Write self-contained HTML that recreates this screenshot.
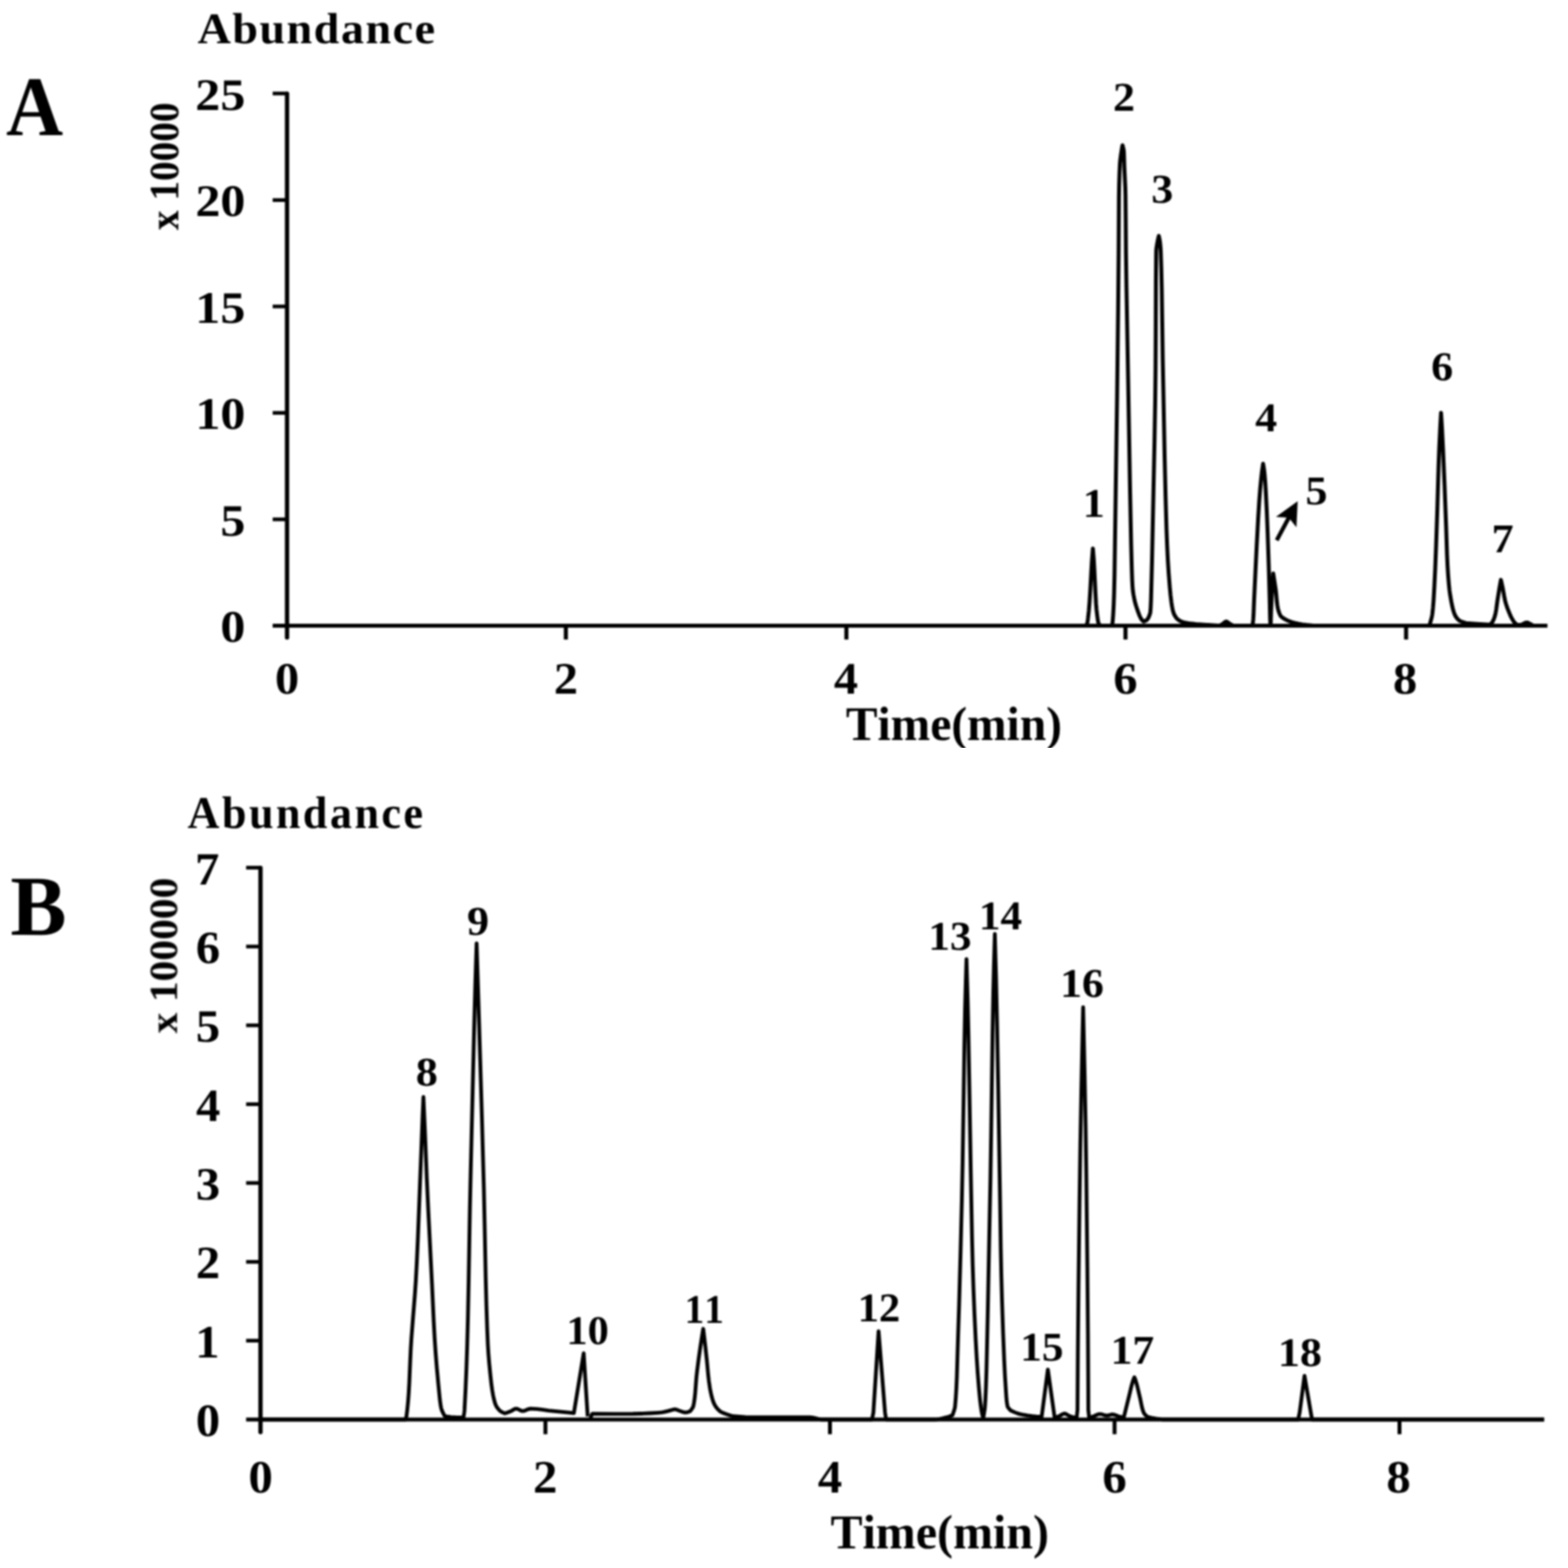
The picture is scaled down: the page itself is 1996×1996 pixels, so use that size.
<!DOCTYPE html>
<html lang="en">
<head>
<meta charset="utf-8">
<title>Chromatograms A and B</title>
<style>
html,body{margin:0;padding:0;background:#fff;}
body{width:1996px;height:1996px;overflow:hidden;}
svg{display:block;}
text{white-space:pre;font-kerning:none;font-variant-ligatures:none;text-rendering:geometricPrecision;}
</style>
</head>
<body>
<svg xmlns="http://www.w3.org/2000/svg" width="1996" height="1996" viewBox="0 0 1996 1996">
<defs>
<clipPath id="clipA"><rect x="1000" y="880" width="500" height="71.5"/></clipPath>
<filter id="soft" filterUnits="userSpaceOnUse" x="0" y="0" width="1996" height="1996" color-interpolation-filters="sRGB"><feGaussianBlur stdDeviation="0.9"/></filter>
</defs>
<rect width="1996" height="1996" fill="#fff"/>
<g filter="url(#soft)">
<g fill="none" stroke="#000"><path stroke-width="5.5" stroke-linecap="round" d="M365.4,119.3V811.5"/><path stroke-width="4.8" d="M347.1,796.5H1969.6"/><path stroke-width="5.2" d="M720.3,796.5V814.1"/><path stroke-width="5.2" d="M1077.4,796.5V814.1"/><path stroke-width="5.2" d="M1432.7,796.5V814.1"/><path stroke-width="5.2" d="M1789.9,796.5V814.1"/><path stroke-width="4.7" d="M347.1,661.1H365.4"/><path stroke-width="4.7" d="M347.1,525.6H365.4"/><path stroke-width="4.7" d="M347.1,390.1H365.4"/><path stroke-width="4.7" d="M347.1,254.7H365.4"/><path stroke-width="4.7" d="M347.1,119.0H365.4"/></g>
<g fill="none" stroke="#000"><path stroke-width="5.5" stroke-linecap="round" d="M331.6,1104.8V1823.1"/><path stroke-width="4.8" d="M313.3,1807.0H1965.5"/><path stroke-width="5.0" d="M694.3,1807.0V1825.7"/><path stroke-width="5.0" d="M1056.5,1807.0V1825.7"/><path stroke-width="5.0" d="M1418.8,1807.0V1825.7"/><path stroke-width="5.0" d="M1781.5,1807.0V1825.7"/><path stroke-width="4.7" d="M313.3,1706.6H331.6"/><path stroke-width="4.7" d="M313.3,1606.3H331.6"/><path stroke-width="4.7" d="M313.3,1505.9H331.6"/><path stroke-width="4.7" d="M313.3,1405.6H331.6"/><path stroke-width="4.7" d="M313.3,1305.2H331.6"/><path stroke-width="4.7" d="M313.3,1204.9H331.6"/><path stroke-width="4.7" d="M313.3,1104.5H331.6"/></g>
<g fill="none" stroke="#000" stroke-linejoin="round" stroke-linecap="butt"><path stroke-width="5.0" d="M365.40,796.45 1381.50,796.45 1382.86,795.39 1383.24,795.04 1383.51,794.69 1383.98,793.28 1384.44,791.17 1384.87,788.00 1386.04,777.43 1386.86,767.57 1387.88,751.37 1389.10,728.84 1389.95,714.40 1391.11,699.26 1391.20,698.20 1392.30,711.93 1392.98,723.55 1394.55,756.66 1395.23,768.63 1395.83,776.03 1396.59,782.72 1397.58,790.11 1398.03,792.22 1398.59,793.98 1398.91,794.69 1399.25,795.04 1400.31,795.75 1401.50,796.45 1415.60,796.45 1416.38,791.20 1417.01,782.79 1417.66,770.54 1418.19,755.48 1418.74,731.66 1419.32,691.04 1422.00,506.48 1423.34,393.02 1423.98,323.33 1424.37,251.54 1424.60,235.78 1425.05,221.07 1425.65,208.11 1426.06,203.56 1426.98,196.56 1428.05,189.55 1428.90,185.00 1430.01,189.20 1430.47,191.65 1430.66,194.11 1430.92,201.81 1431.21,211.97 1432.46,238.93 1432.71,248.74 1433.00,278.50 1433.32,322.28 1433.94,365.70 1436.22,491.78 1438.47,622.40 1439.88,692.44 1440.66,722.21 1441.18,737.97 1441.71,747.77 1442.12,751.98 1442.85,756.88 1444.18,763.88 1445.12,767.74 1446.48,772.29 1448.66,778.59 1450.35,783.15 1451.45,785.60 1452.61,787.70 1453.35,788.75 1454.69,790.15 1455.80,791.20 1458.42,790.15 1459.08,789.80 1459.56,789.45 1460.56,788.40 1461.33,787.35 1462.08,785.94 1463.39,782.79 1464.06,780.69 1464.33,779.29 1464.78,773.33 1465.16,764.57 1466.47,714.11 1469.66,560.99 1470.51,510.54 1470.98,469.19 1471.21,426.44 1471.43,358.11 1471.74,324.13 1471.86,318.52 1472.17,315.37 1473.03,310.11 1473.94,305.21 1475.10,300.30 1476.10,304.85 1476.60,308.01 1477.25,314.31 1477.58,319.57 1478.29,341.98 1478.88,368.96 1479.47,410.64 1480.11,456.53 1482.56,582.28 1483.75,633.07 1484.92,673.70 1485.73,694.72 1486.68,713.98 1487.72,730.10 1489.10,747.61 1490.06,757.77 1491.13,766.53 1491.97,772.13 1492.81,776.33 1493.63,779.49 1494.41,781.59 1495.26,783.34 1496.30,785.09 1497.57,786.84 1498.54,787.89 1499.78,788.94 1501.37,790.00 1503.38,791.05 1504.90,791.63 1507.62,792.36 1511.90,793.21 1516.11,793.85 1522.39,794.48 1536.00,795.49 1537.60,795.60 1552.40,796.45 1555.30,794.91 1556.95,793.89 1559.44,791.78 1559.85,791.51 1560.27,791.32 1560.68,791.22 1561.09,791.21 1561.51,791.30 1561.92,791.48 1562.75,792.02 1564.82,793.75 1565.65,794.28 1568.54,795.75 1570.20,796.45 1593.00,796.45 1594.18,795.05 1594.60,794.35 1594.75,793.65 1595.29,788.74 1595.70,782.78 1596.07,772.61 1596.43,763.49 1598.15,727.38 1599.70,695.48 1601.66,658.67 1602.94,638.33 1604.12,622.91 1605.33,609.93 1606.48,599.77 1607.73,591.35 1607.90,590.30 1609.12,598.01 1609.66,602.57 1610.51,612.74 1611.34,626.06 1612.52,649.55 1613.64,677.60 1615.06,720.02 1616.39,768.05 1616.77,786.28 1617.07,792.94 1617.50,796.45 1618.03,779.16 1618.80,761.51 1619.76,744.92 1620.80,730.10 1623.19,745.63 1623.99,750.92 1624.57,756.57 1625.41,766.10 1626.01,770.69 1626.72,774.57 1627.43,777.39 1628.25,779.86 1629.30,782.33 1630.04,783.74 1630.57,784.45 1631.64,785.51 1633.30,786.74 1635.66,788.16 1638.80,789.74 1641.47,790.92 1644.17,791.86 1647.95,792.92 1652.65,793.98 1657.73,794.92 1662.78,795.55 1672.00,796.45 1819.40,796.45 1820.51,793.29 1822.08,787.68 1822.87,784.18 1823.32,781.37 1824.14,773.66 1824.86,764.54 1825.89,746.66 1826.97,724.22 1828.13,694.06 1829.65,648.13 1831.21,594.13 1832.06,571.33 1833.41,542.93 1834.40,525.40 1835.60,545.03 1836.87,570.97 1838.90,618.64 1840.88,670.87 1841.99,705.57 1842.66,720.29 1843.46,732.91 1844.39,744.13 1845.16,751.49 1846.06,757.80 1847.41,765.51 1848.74,772.17 1849.69,776.02 1850.77,779.53 1851.84,782.33 1852.68,784.09 1853.75,785.84 1854.82,787.24 1856.13,788.64 1857.29,789.69 1858.07,790.22 1859.66,790.98 1862.83,792.15 1866.00,793.20 1880.00,794.20 1896.50,795.20 1898.28,793.79 1898.94,793.09 1900.23,790.97 1901.27,788.86 1902.24,786.39 1903.10,783.57 1903.91,780.04 1904.63,775.81 1906.10,764.89 1908.63,749.03 1910.60,738.10 1912.66,747.31 1913.73,752.98 1915.17,761.13 1916.12,765.38 1917.22,769.28 1918.77,773.89 1920.69,778.85 1922.97,784.16 1924.56,787.35 1926.02,789.83 1927.25,791.60 1928.47,793.02 1931.00,795.50 1936.70,795.50 1938.77,794.21 1941.67,792.83 1942.49,792.53 1943.32,792.40 1944.15,792.49 1944.98,792.75 1948.29,794.39 1950.36,795.61 1951.60,796.45 1969.60,796.45"/><path stroke-width="4.8" d="M331.60,1807.00 516.00,1807.00 517.11,1804.20 517.38,1803.14 518.47,1794.38 519.44,1784.56 520.26,1773.70 521.02,1760.38 522.15,1733.03 522.91,1716.56 523.71,1703.94 525.53,1680.45 528.16,1647.50 529.35,1629.97 530.57,1607.18 531.97,1575.98 537.98,1420.69 539.00,1396.50 540.85,1438.54 543.26,1499.14 545.24,1541.53 549.91,1634.71 552.13,1682.70 553.34,1704.42 554.55,1722.28 556.07,1741.20 557.95,1761.51 559.99,1782.18 560.74,1787.79 561.50,1791.99 561.95,1793.74 562.71,1795.84 564.00,1798.65 566.00,1802.50 570.88,1803.50 573.73,1803.90 579.83,1804.25 587.15,1804.48 590.00,1804.50 591.07,1797.49 591.32,1794.69 592.60,1769.46 593.74,1742.13 594.75,1712.00 595.66,1677.31 596.55,1632.46 598.16,1538.21 599.03,1498.62 603.55,1309.77 605.15,1250.90 606.70,1200.80 609.63,1293.99 613.49,1423.97 615.92,1512.61 616.93,1559.21 618.28,1626.48 619.19,1661.86 620.16,1690.94 621.02,1711.61 621.72,1722.82 622.76,1735.44 624.33,1751.20 625.57,1762.41 626.53,1769.42 627.56,1775.38 628.68,1780.63 629.95,1785.54 630.53,1787.29 631.30,1789.04 632.27,1790.79 633.46,1792.54 634.88,1794.30 636.21,1795.70 637.39,1796.57 639.61,1797.80 642.50,1799.20 646.12,1798.00 650.13,1796.44 651.34,1795.83 654.15,1794.11 655.36,1793.54 656.16,1793.29 656.97,1793.20 657.77,1793.27 658.97,1793.63 660.58,1794.39 662.99,1795.63 664.20,1796.06 665.00,1796.19 666.21,1796.14 667.41,1795.88 669.02,1795.32 672.64,1793.83 674.24,1793.36 675.45,1793.21 679.07,1793.29 683.49,1793.66 689.92,1794.47 698.35,1795.62 724.07,1798.19 730.50,1798.80 743.00,1722.60 748.10,1803.00"/><path stroke-width="4.8" d="M751.00,1807.00 753.01,1801.63 753.41,1800.76 753.81,1800.09 754.21,1799.69 754.61,1799.60 781.50,1799.80 805.57,1799.76 816.00,1799.51 826.84,1799.02 838.07,1798.27 842.49,1797.89 845.29,1797.40 849.71,1796.33 854.12,1795.19 856.93,1794.30 858.13,1794.06 859.34,1794.01 860.54,1794.21 862.15,1794.75 865.36,1796.09 870.17,1797.66 871.38,1797.91 872.58,1798.00 873.78,1797.92 875.39,1797.59 876.99,1797.02 878.60,1796.23 879.00,1796.00 881.44,1792.48 882.20,1791.07 882.57,1790.02 883.46,1785.44 884.24,1780.17 884.93,1773.83 885.70,1763.63 886.48,1753.43 887.20,1746.74 889.26,1730.56 891.70,1713.31 894.14,1697.83 895.20,1691.50 897.85,1713.67 899.76,1731.26 901.53,1750.62 902.39,1758.01 903.63,1766.45 904.65,1772.08 905.77,1777.01 906.94,1781.23 908.11,1784.75 909.00,1786.86 910.11,1788.98 911.47,1791.09 912.84,1792.85 914.44,1794.61 915.92,1796.01 916.85,1796.72 918.40,1797.60 920.89,1798.71 924.98,1800.24 932.50,1802.70 948.57,1803.83 955.80,1804.14 963.44,1804.20 1030.94,1804.22 1033.35,1804.43 1036.16,1804.90 1040.98,1806.03 1045.00,1807.00 1110.00,1807.00 1111.80,1798.00 1118.40,1694.60 1126.60,1798.00 1128.00,1807.00 1190.00,1807.00 1192.86,1806.77 1196.14,1806.29 1200.23,1805.45 1206.36,1803.90 1208.82,1803.06 1212.50,1801.50 1214.85,1794.49 1215.47,1792.04 1215.80,1789.94 1216.68,1779.08 1217.43,1766.82 1218.06,1752.10 1218.80,1726.88 1219.49,1704.46 1220.90,1661.02 1222.89,1588.85 1224.44,1526.49 1225.38,1479.90 1226.39,1414.38 1227.61,1332.06 1228.48,1286.16 1229.42,1250.43 1230.30,1221.00 1231.81,1273.88 1232.75,1316.26 1233.94,1383.15 1235.71,1489.61 1237.32,1575.06 1238.17,1609.73 1239.16,1640.20 1240.44,1672.07 1242.03,1705.69 1243.28,1728.10 1244.62,1748.07 1246.06,1766.28 1247.33,1779.93 1248.34,1788.69 1249.41,1796.04 1250.10,1799.55 1251.60,1805.50 1253.26,1795.69 1253.78,1791.49 1254.41,1780.99 1255.10,1765.23 1255.73,1744.92 1257.41,1670.67 1259.18,1580.32 1260.75,1502.58 1261.75,1439.89 1263.47,1317.32 1264.43,1263.39 1265.22,1230.12 1266.40,1188.80 1267.97,1245.90 1269.23,1304.04 1270.75,1387.41 1273.00,1526.48 1273.92,1588.48 1274.63,1622.81 1275.63,1658.89 1276.95,1697.77 1278.28,1731.05 1279.29,1751.36 1280.34,1768.18 1281.14,1780.09 1281.66,1784.99 1282.27,1788.84 1282.56,1790.25 1282.84,1790.95 1283.49,1792.00 1284.66,1793.40 1286.60,1795.50 1291.88,1797.88 1295.13,1799.13 1297.57,1799.87 1300.82,1800.55 1308.13,1801.87 1313.81,1802.69 1318.69,1803.19 1323.16,1803.45 1326.00,1803.50 1333.90,1743.30 1342.50,1804.50 1345.34,1803.71 1348.18,1802.73 1349.40,1802.13 1352.24,1800.39 1353.46,1799.81 1354.27,1799.58 1355.08,1799.50 1355.89,1799.61 1356.70,1799.89 1357.92,1800.50 1360.76,1802.24 1361.98,1802.79 1365.63,1803.94 1368.47,1804.64 1370.50,1805.00 1371.60,1795.00 1372.09,1720.74 1372.91,1635.98 1374.22,1528.44 1375.22,1458.74 1376.44,1391.13 1378.21,1307.77 1378.80,1282.20 1380.72,1369.42 1381.96,1434.92 1382.79,1491.31 1384.16,1612.86 1384.91,1697.62 1385.32,1769.08 1385.40,1795.00 1386.50,1805.00 1392.56,1802.78 1397.00,1800.69 1398.21,1800.27 1399.42,1800.03 1400.63,1800.03 1401.84,1800.22 1403.86,1800.79 1406.68,1801.67 1407.89,1801.92 1409.11,1802.00 1410.32,1801.86 1411.93,1801.43 1414.35,1800.71 1415.56,1800.52 1416.78,1800.55 1417.99,1800.79 1419.60,1801.33 1423.23,1802.77 1426.87,1803.72 1430.50,1804.50 1437.75,1775.14 1440.19,1764.88 1441.65,1759.57 1442.69,1756.38 1444.00,1753.20 1445.44,1756.74 1446.65,1760.64 1448.04,1765.95 1451.18,1779.41 1452.11,1783.66 1453.44,1790.39 1454.24,1793.58 1455.16,1796.42 1456.02,1798.54 1456.66,1799.60 1457.56,1800.67 1460.50,1803.50 1465.89,1804.78 1471.70,1805.85 1477.51,1806.71 1480.00,1807.00 1652.50,1807.00 1654.40,1798.00 1660.60,1751.30 1668.60,1798.00 1670.20,1807.00 1965.50,1807.00"/></g>
<path d="M1625.2,687.7L1641.4,657.4" fill="none" stroke="#000" stroke-width="5.2"/><path d="M1651.9,638.0L1650.3,671.2L1640.6,658.9L1624.2,657.9Z" fill="#000"/>
<g font-family="Liberation Serif, serif" font-weight="bold" fill="#000"><text transform="translate(7.82,171.50) scale(0.9311,1)" font-size="108.00" >A</text>
<text transform="translate(13.32,1189.80) scale(0.9829,1)" font-size="109.00" >B</text>
<text transform="translate(251.43,54.70) scale(1.0576,1)" font-size="55.50" letter-spacing="1.80" >Abundance</text>
<text transform="translate(238.85,1053.80) scale(0.9688,1)" font-size="58.00" letter-spacing="3.20" >Abundance</text>
<text transform="translate(280.57,816.95) scale(1.1100,1)" font-size="57.40" >0</text>
<text transform="translate(280.48,681.60) scale(1.1100,1)" font-size="57.40" >5</text>
<text transform="translate(248.71,546.10) scale(1.1100,1)" font-size="57.40" >10</text>
<text transform="translate(248.62,410.60) scale(1.1100,1)" font-size="57.40" >15</text>
<text transform="translate(248.71,275.20) scale(1.1100,1)" font-size="57.40" >20</text>
<text transform="translate(248.62,139.50) scale(1.1100,1)" font-size="57.40" >25</text>
<text transform="translate(249.31,1828.00) scale(1.0500,1)" font-size="59.00" >0</text>
<text transform="translate(248.44,1727.64) scale(1.0500,1)" font-size="59.00" >1</text>
<text transform="translate(249.34,1627.29) scale(1.0500,1)" font-size="59.00" >2</text>
<text transform="translate(249.21,1526.93) scale(1.0500,1)" font-size="59.00" >3</text>
<text transform="translate(249.46,1426.57) scale(1.0500,1)" font-size="59.00" >4</text>
<text transform="translate(249.21,1326.21) scale(1.0500,1)" font-size="59.00" >5</text>
<text transform="translate(249.16,1225.86) scale(1.0500,1)" font-size="59.00" >6</text>
<text transform="translate(248.30,1125.50) scale(1.0500,1)" font-size="59.00" >7</text>
<text transform="translate(350.00,883.40) scale(1.0750,1)" font-size="57.30" >0</text>
<text transform="translate(704.93,883.40) scale(1.0750,1)" font-size="57.30" >2</text>
<text transform="translate(1061.55,883.40) scale(1.0750,1)" font-size="57.30" >4</text>
<text transform="translate(1417.15,883.40) scale(1.0750,1)" font-size="57.30" >6</text>
<text transform="translate(1773.30,883.40) scale(1.0750,1)" font-size="57.30" >8</text>
<text transform="translate(316.36,1899.50) scale(1.0500,1)" font-size="59.20" >0</text>
<text transform="translate(678.59,1899.50) scale(1.0500,1)" font-size="59.20" >2</text>
<text transform="translate(1041.11,1899.50) scale(1.0500,1)" font-size="59.20" >4</text>
<text transform="translate(1403.31,1899.50) scale(1.0500,1)" font-size="59.20" >6</text>
<text transform="translate(1764.76,1899.50) scale(1.0500,1)" font-size="59.20" >8</text>
<text transform="translate(1057.15,1971.20) scale(0.9881,1)" font-size="61.80" >Time(min)</text>
<text transform="translate(226.90,292.90) rotate(-90) scale(0.9404,1)" font-size="53.20">x 10000</text>
<text transform="translate(225.30,1315.41) rotate(-90) scale(1.0426,1)" font-size="50.70">x 100000</text>
<text transform="translate(1378.16,658.00) scale(1.0800,1)" font-size="52.00" >1</text>
<text transform="translate(1416.79,141.00) scale(1.0800,1)" font-size="52.00" >2</text>
<text transform="translate(1465.56,258.00) scale(1.0800,1)" font-size="52.00" >3</text>
<text transform="translate(1597.70,549.40) scale(1.0800,1)" font-size="52.00" >4</text>
<text transform="translate(1661.66,641.50) scale(1.0800,1)" font-size="52.00" >5</text>
<text transform="translate(1821.82,484.20) scale(1.0800,1)" font-size="52.00" >6</text>
<text transform="translate(1898.84,702.60) scale(1.0800,1)" font-size="52.00" >7</text>
<text transform="translate(529.16,1381.60) scale(1.0800,1)" font-size="52.00" >8</text>
<text transform="translate(594.61,1190.00) scale(1.0800,1)" font-size="52.00" >9</text>
<text transform="translate(721.08,1711.20) scale(1.0380,1)" font-size="52.00" >10</text>
<text transform="translate(871.60,1684.30) scale(0.9614,1)" font-size="52.00" >11</text>
<text transform="translate(1091.64,1681.80) scale(1.0460,1)" font-size="52.00" >12</text>
<text transform="translate(1181.80,1208.70) scale(1.0573,1)" font-size="52.00" >13</text>
<text transform="translate(1245.98,1182.80) scale(1.0604,1)" font-size="52.00" >14</text>
<text transform="translate(1298.78,1731.50) scale(1.0603,1)" font-size="52.00" >15</text>
<text transform="translate(1349.43,1268.70) scale(1.0731,1)" font-size="52.00" >16</text>
<text transform="translate(1413.66,1736.00) scale(1.0673,1)" font-size="52.00" >17</text>
<text transform="translate(1626.71,1738.90) scale(1.0779,1)" font-size="52.00" >18</text></g>
</g>
<g clip-path="url(#clipA)"><g filter="url(#soft)" font-family="Liberation Serif, serif" font-weight="bold" fill="#000"><text transform="translate(1076.76,941.70) scale(0.9853,1)" font-size="61.30" >Time(min)</text></g></g>
</svg>
</body>
</html>
